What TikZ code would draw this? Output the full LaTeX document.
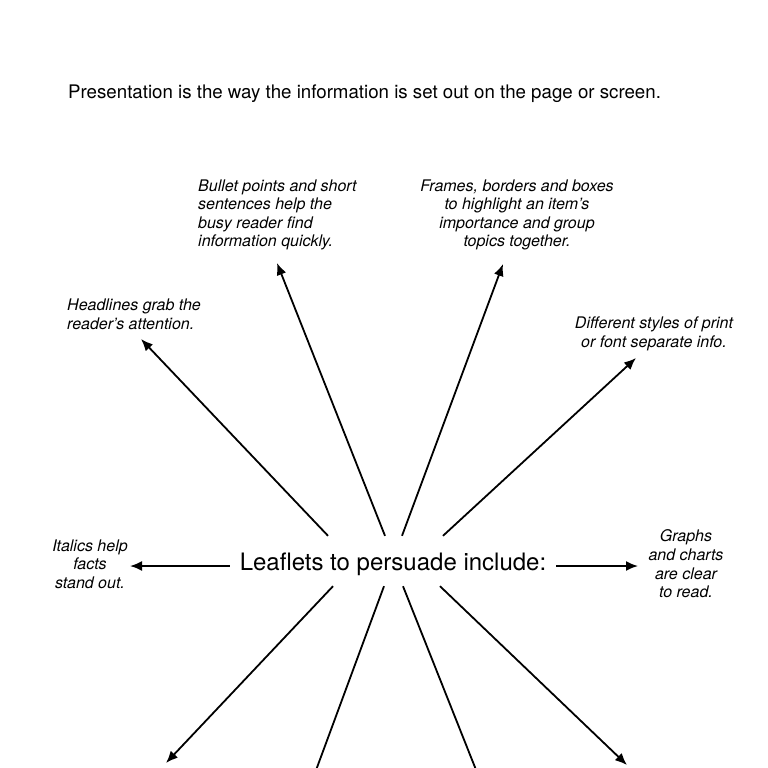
\documentclass[tikz,border=0pt]{standalone}
\usepackage{fontspec}
\setmainfont{TeX Gyre Heros}
\usetikzlibrary{arrows.meta}
\tikzset{
  note/.style={inner sep=0pt, font=\fontsize{16}{18.6}\selectfont\itshape},
  spoke/.style={line width=1.8pt, -{Latex[length=12pt,width=10pt]}}
}
\begin{document}
\begin{tikzpicture}[x=1pt,y=-1pt]
	\clip (0,0) rectangle (768,768);
	% heading and centre
	\node[anchor=west, inner sep=0pt, font=\fontsize{18.7}{22}\selectfont] (intro) at (68,94) {Presentation is the way the information is set out on the page or screen.};
	\node[minimum width=326pt, minimum height=50pt, inner sep=0pt, text height=23pt, text depth=5pt, font=\fontsize{24}{28}\selectfont] (hub) at (393,561) {Leaflets to persuade include:};
	% the notes
	\node[note, anchor=west, align=left] (bullets) at (198,215) {Bullet points and short\\sentences help the\\busy reader find\\information quickly.};
	\node[note, align=center] (frames) at (517,215) {Frames, borders and boxes\\to highlight an item’s\\importance and group\\topics together.};
	\node[note, anchor=west, align=left] (headlines) at (67,314) {Headlines grab the\\reader’s attention.};
	\node[note, align=center] (styles) at (654,334) {Different styles of print\\or font separate info.};
	\node[note, align=center] (italics) at (90,564) {Italics help\\facts\\stand out.};
	\node[note, align=center] (graphs) at (686,564) {Graphs\\and charts\\are clear\\to read.};
	% arrow ends
	\coordinate (tipheadlines) at (141,339);
	\coordinate (tipbullets) at (277,263);
	\coordinate (tipframes) at (503,264);
	\coordinate (tipstyles) at (636,358);
	\coordinate (tipitalics) at (130,566);
	\coordinate (tipgraphs) at (638,566);
	\coordinate (tipbl) at (166,763);
	\coordinate (tipbml) at (305,800);
	\coordinate (tipbmr) at (488,800);
	\coordinate (tipbr) at (627,765);
	\draw[spoke] ([xshift=-65pt]hub.north) -- (tipheadlines);
	\draw[spoke] ([xshift=-8pt]hub.north) -- (tipbullets);
	\draw[spoke] ([xshift=9pt]hub.north) -- (tipframes);
	\draw[spoke] ([xshift=50pt]hub.north) -- (tipstyles);
	\draw[spoke] ([yshift=-5pt]hub.west) -- (tipitalics);
	\draw[spoke] ([yshift=-5pt]hub.east) -- (tipgraphs);
	\draw[spoke] ([xshift=-60pt]hub.south) -- (tipbl);
	\draw[spoke] ([xshift=-9pt]hub.south) -- (tipbml);
	\draw[spoke] ([xshift=10pt]hub.south) -- (tipbmr);
	\draw[spoke] ([xshift=47pt]hub.south) -- (tipbr);
\end{tikzpicture}
\end{document}
